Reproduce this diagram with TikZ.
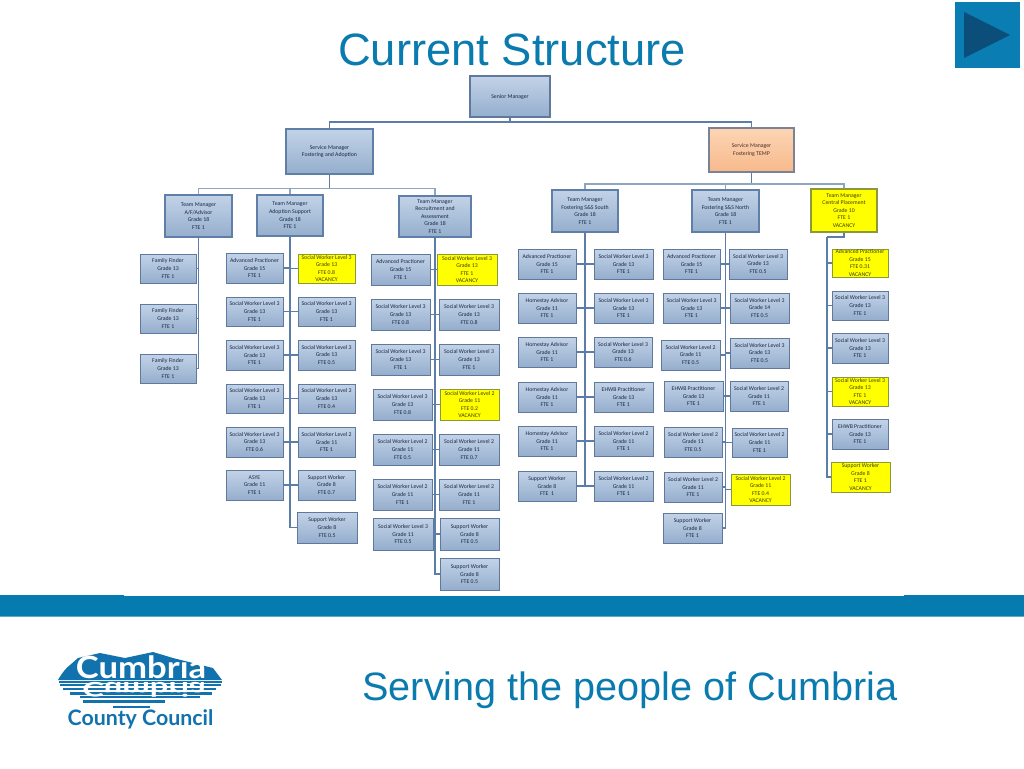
\documentclass[tikz,border=0pt]{standalone}
\usepackage{fontspec}
\setmainfont{Liberation Sans}
\newfontfamily\boxfont{Carlito}
\newfontfamily\logofont{Lato}
\usetikzlibrary{shadows}
\definecolor{slidebl}{HTML}{0A7BAE}
\definecolor{bandbl}{HTML}{057BB0}
\definecolor{btnbl}{HTML}{0A7EB3}
\definecolor{btndk}{HTML}{0B4E7A}
\definecolor{lnk}{HTML}{5B7DA8}
\definecolor{lnkl}{HTML}{8FA6C2}
\definecolor{edge}{HTML}{5F789B}
\definecolor{txt}{HTML}{1A2844}
\definecolor{logobl}{HTML}{1272AE}
\definecolor{boxt}{HTML}{C2D3E8}
\definecolor{boxb}{HTML}{95AECD}
\definecolor{yedge}{HTML}{8A9A3A}
\definecolor{yellowtxt}{HTML}{3E3E08}
\definecolor{medge}{HTML}{5F7FA8}
\definecolor{orT}{HTML}{FCD5B4}
\definecolor{orB}{HTML}{F8B98C}
\definecolor{orE}{HTML}{7A8296}
\definecolor{orTx}{HTML}{4A3028}
\tikzset{
  swbox/.style={draw=edge,line width=.7pt,top color=boxt,bottom color=boxb,align=center,inner sep=0pt,text=txt,
    font=\boxfont\fontsize{4.35}{5.7}\selectfont,
    drop shadow={shadow xshift=.5pt,shadow yshift=-.5pt,fill=black!45,opacity=.8}},
  ylbox/.style={swbox,top color=yellow,bottom color=yellow,draw=yedge,text=yellowtxt},
  senbox/.style={swbox,line width=1pt},
  mgrbox/.style={swbox,line width=1.4pt,draw=medge},
  ymgrbox/.style={mgrbox,top color=yellow,bottom color=yellow,draw=yedge,text=yellowtxt},
  ormgrbox/.style={mgrbox,top color=orT,bottom color=orB,draw=orE,text=orTx},
  conn/.style={lnk,line width=.8pt},
  spine/.style={lnk,line width=1.2pt},
}
\newcommand\obox[7][swbox]{\node[#1,minimum width={(#5-#3)*0.75pt},minimum height={(#6-#4)*0.75pt}] (#2) at ({(#3+#5)/2},{(#4+#6)/2}) {#7};}
\newcommand\sw{Social Worker Level}
\begin{document}
\begin{tikzpicture}[x=.75pt,y=-.75pt]
\useasboundingbox (0,0) rectangle (1024,768);
\fill[white] (0,0) rectangle (1024,768);
% title and play button
\node[text=slidebl,font=\fontsize{34}{40}\selectfont,anchor=center] (title) at (512,50) {Current Structure};
\node[fill=btnbl,minimum width=48.75pt,minimum height=49.5pt,inner sep=0pt] (btn) at (987.5,35) {};
\fill[btndk] (964,12) -- (1010,35) -- (964,58) -- cycle;
% band
\fill[bandbl] (0,595) -- (124,595) -- (124,596) -- (904,596) -- (904,595) -- (1024,595) -- (1024,616.5) -- (0,616.5) -- cycle;
\node[text=slidebl,font=\fontsize{29.7}{36}\selectfont] (motto) at (630,690) {Serving the people of Cumbria};
% logo
\fill[logobl] (58,680) .. controls (62,673) and (66,668) .. (70,665) -- (78,658) -- (100,653) -- (125,658) -- (153,652) -- (173,658) -- (193,663) -- (213,668) -- (222,680) -- cycle;
\foreach \ya/\yb/\xa/\xb in {681/682.5/59/222,684/686/60/221,688/690/63/216,692/694.5/70/212,696/698/80/200,700/703/83/165,706/708/113/150}
  \fill[logobl] (\xa,\ya) rectangle (\xb,\yb);
\node[font=\logofont\bfseries\fontsize{23}{23}\selectfont,text=white,anchor=base,xscale=1.13,transform shape] (cumbria) at (141,678) {Cumbria};
\node[font=\logofont\bfseries\fontsize{22}{22}\selectfont,text=white,anchor=base,xscale=1.12,yscale=-.68,transform shape] (cumbriar) at (144,682) {Cumbria};
\node[font=\logofont\bfseries\fontsize{16}{16}\selectfont,text=logobl,anchor=base] (county) at (140.5,725) {County Council};
% managers
\obox[senbox]{sen}{470}{76}{550}{117}{Senior Manager}
\obox[mgrbox]{smfa}{286}{129}{373}{174}{Service Manager\\Fostering and Adoption}
\obox[ormgrbox]{smt}{709}{128}{794}{172}{Service Manager\\Fostering TEMP}
\obox[mgrbox]{tmaf}{165}{195}{232}{237}{Team Manager\\A/F/Advisor\\Grade 18\\FTE 1}
\obox[mgrbox]{tmad}{257}{195}{323}{236}{Team Manager\\Adoption Support\\Grade 18\\FTE 1}
\obox[mgrbox]{tmra}{399}{196}{471}{237}{Team Manager\\Recruitment and\\Assessment\\Grade 18\\FTE 1}
\obox[mgrbox]{tmso}{552}{190}{618}{232}{Team Manager\\Fostering S\&S South\\Grade 18\\FTE 1}
\obox[mgrbox]{tmno}{692}{190}{759}{232}{Team Manager\\Fostering S\&S North\\Grade 18\\FTE 1}
\obox[ymgrbox]{tmce}{811}{189}{877}{232}{Team Manager\\Central Placement\\Grade 10\\FTE 1\\VACANCY}
% A/F column
\obox{ff1}{140}{254}{196}{283}{Family Finder\\Grade 13\\FTE 1}
\obox{ff2}{140}{304}{196}{333}{Family Finder\\Grade 13\\FTE 1}
\obox{ff3}{140}{354}{196}{383}{Family Finder\\Grade 13\\FTE 1}
% Adoption column
\obox{adl1}{226}{253}{283}{283}{Advanced Practioner\\Grade 15\\FTE 1}
\obox[ylbox]{adr1}{298}{254}{355}{283}{\sw{} 3\\Grade 13\\FTE 0.8\\VACANCY}
\obox{adl2}{226}{297}{283}{326}{\sw{} 3\\Grade 13\\FTE 1}
\obox{adr2}{298}{297}{355}{326}{\sw{} 3\\Grade 13\\FTE 1}
\obox{adl3}{226}{340}{283}{370}{\sw{} 3\\Grade 13\\FTE 1}
\obox{adr3}{298}{340}{355}{370}{\sw{} 3\\Grade 13\\FTE 0.5}
\obox{adl4}{226}{384}{283}{413}{\sw{} 3\\Grade 13\\FTE 1}
\obox{adr4}{298}{384}{355}{413}{\sw{} 3\\Grade 13\\FTE 0.4}
\obox{adl5}{226}{427}{283}{457}{\sw{} 3\\Grade 13\\FTE 0.6}
\obox{adr5}{298}{427}{355}{457}{\sw{} 2\\Grade 11\\FTE 1}
\obox{adl6}{226}{470}{283}{500}{ASYE\\Grade 11\\FTE 1}
\obox{adr6}{298}{470}{355}{500}{Support Worker\\Grade 8\\FTE 0.7}
\obox{adr7}{297}{512}{357}{543}{Support Worker\\Grade 8\\FTE 0.5}
% Recruitment column
\obox{ral1}{371}{254}{430}{285}{Advanced Practioner\\Grade 15\\FTE 1}
\obox[ylbox]{rar1}{437}{254}{497}{285}{\sw{} 3\\Grade 13\\FTE 1\\VACANCY}
\obox{ral2}{371}{299}{430}{330}{\sw{} 3\\Grade 13\\FTE 0.8}
\obox{rar2}{439}{299}{499}{330}{\sw{} 3\\Grade 13\\FTE 0.8}
\obox{ral3}{371}{344}{430}{375}{\sw{} 3\\Grade 13\\FTE 1}
\obox{rar3}{439}{344}{499}{375}{\sw{} 3\\Grade 13\\FTE 1}
\obox{ral4}{373}{389}{432}{420}{\sw{} 3\\Grade 13\\FTE 0.8}
\obox[ylbox]{rar4}{440}{389}{499}{420}{\sw{} 2\\Grade 11\\FTE 0.2\\VACANCY}
\obox{ral5}{373}{434}{432}{465}{\sw{} 2\\Grade 11\\FTE 0.5}
\obox{rar5}{439}{434}{499}{465}{\sw{} 2\\Grade 11\\FTE 0.7}
\obox{ral6}{373}{479}{432}{510}{\sw{} 2\\Grade 11\\FTE 1}
\obox{rar6}{439}{479}{499}{510}{\sw{} 2\\Grade 11\\FTE 1}
\obox{ral7}{373}{518}{433}{550}{\sw{} 3\\Grade 11\\FTE 0.5}
\obox{rar7}{440}{518}{499}{550}{Support Worker\\Grade 8\\FTE 0.5}
\obox{rar8}{440}{558}{499}{590}{Support Worker\\Grade 8\\FTE 0.5}
% South column
\obox{sol1}{518}{249}{576}{279}{Advanced Practioner\\Grade 15\\FTE 1}
\obox{sor1}{594}{249}{653}{279}{\sw{} 3\\Grade 13\\FTE 1}
\obox{sol2}{518}{293}{576}{323}{Homestay Advisor\\Grade 11\\FTE 1}
\obox{sor2}{594}{293}{653}{323}{\sw{} 3\\Grade 13\\FTE 1}
\obox{sol3}{518}{337}{576}{367}{Homestay Advisor\\Grade 11\\FTE 1}
\obox{sor3}{594}{337}{652}{367}{\sw{} 3\\Grade 13\\FTE 0.6}
\obox{sol4}{518}{382}{576}{412}{Homestay Advisor\\Grade 11\\FTE 1}
\obox{sor4}{594}{382}{653}{412}{EHWB Practitioner\\Grade 13\\FTE 1}
\obox{sol5}{518}{426}{576}{456}{Homestay Advisor\\Grade 11\\FTE 1}
\obox{sor5}{594}{426}{653}{456}{\sw{} 2\\Grade 11\\FTE 1}
\obox{sol6}{518}{471}{576}{501}{Support Worker\\Grade 8\\FTE\ \ 1}
\obox{sor6}{594}{471}{653}{501}{\sw{} 2\\Grade 11\\FTE 1}
% North column
\obox{nol1}{663}{249}{720}{279}{Advanced Practioner\\Grade 15\\FTE 1}
\obox{nor1}{729}{249}{787}{279}{\sw{} 3\\Grade 13\\FTE 0.5}
\obox{nol2}{663}{293}{720}{323}{\sw{} 3\\Grade 13\\FTE 1}
\obox{nor2}{730}{293}{789}{323}{\sw{} 3\\Grade 14\\FTE 0.5}
\obox{nol3}{661}{340}{720}{370}{\sw{} 2\\Grade 11\\FTE 0.5}
\obox{nor3}{730}{338}{789}{368}{\sw{} 3\\Grade 13\\FTE 0.5}
\obox{nol4}{664}{381}{723}{411}{EHWB Practitioner\\Grade 13\\FTE 1}
\obox{nor4}{730}{381}{788}{411}{\sw{} 2\\Grade 11\\FTE 1}
\obox{nol5}{664}{427}{722}{457}{\sw{} 2\\Grade 11\\FTE 0.5}
\obox{nor5}{732}{428}{787}{457}{\sw{} 2\\Grade 11\\FTE 1}
\obox{nol6}{664}{472}{722}{502}{\sw{} 2\\Grade 11\\FTE 1}
\obox[ylbox]{nor6}{731}{474}{790}{505}{\sw{} 2\\Grade 11\\FTE 0.4\\VACANCY}
\obox{nol7}{663}{513}{722}{543}{Support Worker\\Grade 8\\FTE 1}
% Central column
\obox[ylbox]{ce1}{832}{249}{888}{277}{Advanced Practioner\\Grade 15\\FTE 0.31\\VACANCY}
\obox{ce2}{832}{291}{888}{320}{\sw{} 3\\Grade 13\\FTE 1}
\obox{ce3}{832}{333}{888}{363}{\sw{} 3\\Grade 13\\FTE 1}
\obox[ylbox]{ce4}{832}{377}{888}{406}{\sw{} 3\\Grade 13\\FTE 1\\VACANCY}
\obox{ce5}{832}{419}{888}{449}{EHWB Practitioner\\Grade 13\\FTE 1}
\obox[ylbox]{ce6}{831}{462}{890}{492}{Support Worker\\Grade 8\\FTE 1\\VACANCY}
% connectors
\coordinate (hs) at (510,122);
\draw[conn] (sen.south) -- (hs) -| (smfa.north);
\draw[conn] (hs) -| (smt.north);
\coordinate (hfa) at (329.5,188.5);
\draw[spine] (smfa.south) -- (hfa);
\foreach \t in {tmaf,tmad,tmra} \draw[lnkl,line width=.9pt] (hfa) -| (\t.north);
\coordinate (ht) at (751.5,184);
\draw[spine] (smt.south) -- (ht);
\foreach \t in {tmso,tmno,tmce} \draw[lnkl,line width=.9pt] (ht) -| (\t.north);
\foreach \t in {ff1,ff2,ff3} \draw[conn] (tmaf.south) |- (\t.east);
\foreach \t in {adl1,adl2,adl3,adl4,adl5,adl6} \draw[conn] (tmad.south) |- (\t.east);
\foreach \t in {adr1,adr2,adr3,adr4,adr5,adr6,adr7} \draw[conn] (tmad.south) |- (\t.west);
\foreach \t in {ral1,ral2,ral3,ral4,ral5,ral6,ral7} \draw[conn] (tmra.south) |- (\t.east);
\foreach \t in {rar1,rar2,rar3,rar4,rar5,rar6,rar7,rar8} \draw[conn] (tmra.south) |- (\t.west);
\foreach \t in {sol1,sol2,sol3,sol4,sol5,sol6} \draw[conn] (tmso.south) |- (\t.east);
\foreach \t in {sor1,sor2,sor3,sor4,sor5,sor6} \draw[conn] (tmso.south) |- (\t.west);
\foreach \t in {nol1,nol2,nol3,nol4,nol5,nol6,nol7} \draw[conn] (tmno.south) |- (\t.east);
\foreach \t in {nor1,nor2,nor3,nor4,nor5,nor6} \draw[conn] (tmno.south) |- (\t.west);
\coordinate (cb) at (844,237);
\coordinate (cc) at (827,237);
\draw[conn] (tmce.south) -- (cb) -- (cc);
\foreach \t in {ce1,ce2,ce3,ce4,ce5,ce6} \draw[conn] (cc) |- (\t.west);
\draw[spine] (tmad.south) -- ++(0,120);
\draw[spine] (tmra.south) -- ++(0,200);
\draw[spine] (tmso.south) -- ++(0,200);
\draw[spine] (tmno.south) -- ++(0,150);
\end{tikzpicture}
\end{document}
